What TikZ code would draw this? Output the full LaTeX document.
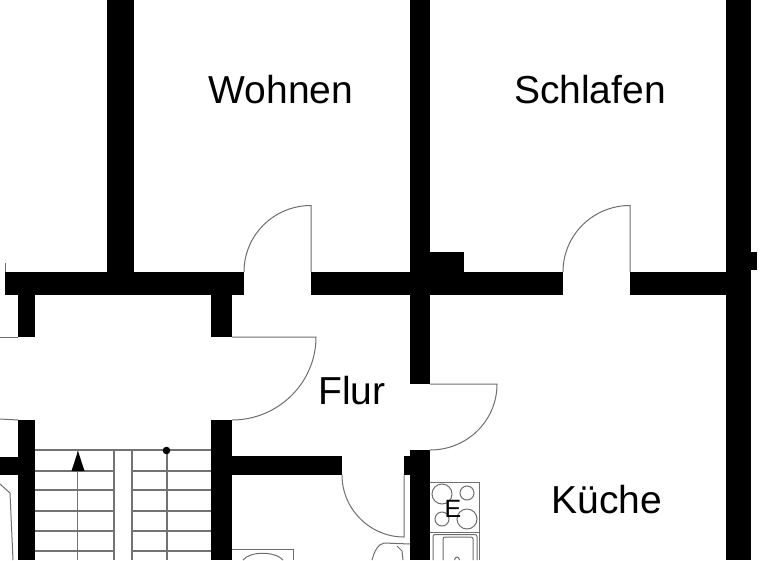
\documentclass[tikz,border=0pt]{standalone}
\usepackage{fontspec}
\setmainfont{Liberation Sans}
\usepackage{xcolor}
\definecolor{planline}{RGB}{110,110,110}
\definecolor{planstair}{RGB}{115,115,115}
\tikzstyle{wall} = [fill=black, draw=none]
\tikzstyle{thinline} = [draw=planline, line width=1pt]
\tikzstyle{stairline} = [draw=planstair, line width=1.2pt]
\tikzstyle{room} = [anchor=base, inner sep=0pt, font=\fontsize{39}{40}\selectfont]
\tikzstyle{stove} = [anchor=base, inner sep=0pt, font=\fontsize{25}{26}\selectfont]

\begin{document}
\begin{tikzpicture}[x=1pt, y=-1pt]
\useasboundingbox (0,0) rectangle (768,560);

% walls
\fill[wall] (107,0) rectangle (134,272);
\fill[wall] (410,0) rectangle (430,384);
\fill[wall] (430,252) rectangle (464,272);
\fill[wall] (726,0) rectangle (751,560);
\fill[wall] (751,252) rectangle (757,270);
\fill[wall] (5,272) rectangle (244,295);
\fill[wall] (311,272) rectangle (563,295);
\fill[wall] (630,272) rectangle (726,295);
\fill[wall] (18,295) rectangle (35,337);
\fill[wall] (211,295) rectangle (232,337);
\fill[wall] (18,420) rectangle (35,560);
\fill[wall] (211,420) rectangle (232,560);
\fill[wall] (0,457) rectangle (18,475);
\fill[wall] (232,456) rectangle (342,475);
\fill[wall] (410,450) rectangle (430,560);
\fill[wall] (404,456) rectangle (410,475);

% doors
\draw[thinline] (5,272) -- (5,263);
\draw[thinline] (311,272) -- (311,205.5) .. controls (274,205.5) and (244,235) .. (244,272);
\draw[thinline] (630,272) -- (630,205.5) .. controls (593,205.5) and (563,235) .. (563,272);
\draw[thinline] (0,337) -- (18,337);
\draw[thinline] (232,337) -- (316,337) .. controls (316,383) and (278,420) .. (232,420);
\draw[thinline] (0,419) -- (18,420);
\draw[thinline] (430,384) -- (497,384) .. controls (497,421) and (467,450) .. (430,450);
\draw[thinline] (342,475) .. controls (342,509) and (370,537) .. (404,537) -- (404,475);

% stairs
\draw[stairline] (35,450) -- (211,450);
\draw[stairline] (35,471) -- (114,471) (132,471) -- (211,471);
\draw[stairline] (35,490) -- (114,490) (132,490) -- (211,490);
\draw[stairline] (35,511) -- (114,511) (132,511) -- (211,511);
\draw[stairline] (35,531) -- (114,531) (132,531) -- (211,531);
\draw[stairline] (35,551) -- (114,551) (132,551) -- (211,551);
\draw[stairline] (114,450) -- (114,560) (132,450) -- (132,560);
\draw[stairline] (77.5,451) -- (77.5,560) (167,451) -- (167,560);
\fill[black] (78,451) -- (84.5,471) -- (71.5,471) -- cycle;
\fill[black] (166.5,450.5) circle (3.8pt);

% bath and wc
\draw[thinline] (0,484) -- (10,493) -- (13,560);
\draw[thinline] (232,549) -- (293,549) -- (293,560);
\draw[thinline] (243,560) .. controls (250,551) and (275,551) .. (283,560);
\draw[thinline] (372,560) .. controls (374,552) and (378,544) .. (384,543) -- (410,544);
\draw[thinline] (397,546) -- (402,551) -- (403,560);

% kitchen
\draw[thinline] (430,482) -- (479.5,482) -- (479.5,560);
\draw[thinline] (430,532) -- (479.5,532);
\draw[thinline] (442,494) circle (10pt);
\draw[thinline] (467,493) circle (7pt);
\draw[thinline] (442,519) circle (7pt);
\draw[thinline] (467,519) circle (10pt);
\draw[thinline, rounded corners=2pt] (433,560) -- (433,534.5) -- (477,534.5) -- (477,560);
\draw[thinline, rounded corners=2pt] (443,560) -- (443,537) -- (473,537) -- (473,560);
\draw[thinline] (454.5,560) .. controls (455,556) and (459,556) .. (459.5,560);

% labels
\node (wohnen) [room] at (281,103) {Wohnen};
\node (schlafen) [room] at (590,103) {Schlafen};
\node (flur) [room] at (352,404) {Flur};
\node (kueche) [room] at (607,513) {Küche};
\node (herd) [stove] at (453,517) {E};
\end{tikzpicture}
\end{document}
